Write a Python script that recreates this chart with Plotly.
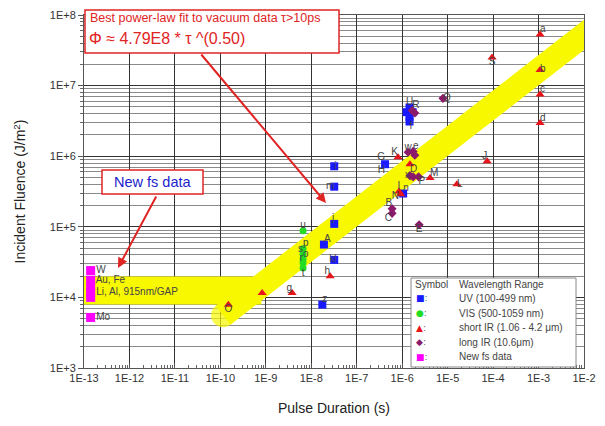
import plotly.graph_objects as go

FONT = "Liberation Sans, Arial, Helvetica, sans-serif"

# ---------------- data ----------------
# axis ticks
x_tickvals = [1e-13, 1e-12, 1e-11, 1e-10, 1e-9, 1e-8, 1e-7, 1e-6, 1e-5, 1e-4, 1e-3, 1e-2]
x_ticktext = ["1E-13", "1E-12", "1E-11", "1E-10", "1E-9", "1E-8", "1E-7", "1E-6",
              "1E-5", "1E-4", "1E-3", "1E-2"]
y_tickvals = [1e3, 1e4, 1e5, 1e6, 1e7, 1e8]
y_ticktext = ["1E+3", "1E+4", "1E+5", "1E+6", "1E+7", "1E+8"]

# UV (100-499 nm)
uv_tau = [3.2e-8, 3.2e-8, 3.2e-8, 1.9e-8, 3.2e-8, 1.75e-8, 4.2e-7,
          1.45e-6, 1.25e-6, 1.7e-6, 1.45e-6, 1.45e-6, 1.05e-6]
uv_phi = [7.2e5, 3.7e5, 1.1e5, 5.6e4, 3.4e4, 7.9e3, 7.7e5,
          4.9e6, 4.2e6, 4.2e6, 3.6e6, 3.1e6, 2.96e5]
uv_lab_idx = [0, 1, 2, 3, 4, 4, 5, 6, 7, 11, 12]
uv_lab_txt = ["i", "m", "j", "A", "l", "k", "z", "G<br>H", "U", "f", "n"]
uv_lab_pos = ["middle right", "middle left", "top left", "top right", "middle right",
              "middle left", "top right", "middle left", "top center", "bottom right",
              "top right"]

# VIS (500-1059 nm)
vis_tau = [6.6e-9, 6.6e-9, 6.6e-9, 6.6e-9, 6.6e-9, 6.6e-9]
vis_phi = [8.8e4, 4.9e4, 4.1e4, 3.5e4, 3.1e4, 2.6e4]
vis_lab_idx = [0, 1, 2, 2, 3, 5]
vis_lab_txt = ["u", "p", "o", "s", "r", "t"]
vis_lab_pos = ["top center", "top right", "middle right", "top left", "middle left",
               "bottom center"]

# short IR (1.06 - 4.2 um)
sir_tau = [1.08e-3, 1.08e-3, 1.08e-3, 1.08e-3, 9.5e-5, 7.4e-5, 1.6e-5, 4.1e-6,
           8.1e-7, 1.48e-6, 8.5e-7, 9.3e-7, 2.6e-8, 3.8e-9, 8.3e-10, 1.5e-10]
sir_phi = [5.3e7, 1.67e7, 7.5e6, 2.95e6, 2.5e7, 8.5e5, 4.0e5, 4.9e5,
           9.7e5, 7.7e5, 3.16e5, 2.9e5, 2.0e4, 1.15e4, 1.15e4, 7.9e3]
sir_lab_idx = [0, 1, 2, 3, 4, 5, 6, 7, 8, 9, 10, 10, 12, 13, 15]
sir_lab_txt = ["a", "b", "c", "d", "S", "J", "L", "M", "K", "D", "N", "I", "h", "g", "O"]
sir_lab_pos = ["top right", "middle right", "top right", "top right", "bottom center",
               "top left", "middle right", "top right", "top left", "bottom right",
               "bottom left", "top center", "top left", "top left", "bottom center"]

# long IR (10.6 um)
lir_tau = [7.9e-6, 2.36e-6, 6.0e-7, 6.0e-7, 1.35e-6, 1.74e-6, 1.9e-6,
           1.48e-6, 1.74e-6, 2.3e-6, 1.66e-6, 1.9e-6]
lir_phi = [6.6e6, 1.07e5, 1.8e5, 1.55e5, 1.14e6, 1.17e6, 1.03e6,
           5.3e5, 5.1e5, 5.1e5, 4.45e6, 4.1e6]
lir_lab_idx = [0, 1, 2, 3, 4, 5, 7, 9, 10]
lir_lab_txt = ["Q", "E", "B", "C", "w", "e", "x", "P", "R"]
lir_lab_pos = ["middle right", "bottom center", "top left", "bottom left", "top center",
               "top right", "middle left", "bottom right", "top right"]

# New fs data
fs_tau = [1.4e-13, 1.4e-13, 1.4e-13, 1.4e-13, 1.4e-13, 1.4e-13]
fs_phi = [2.4e4, 1.75e4, 1.42e4, 1.17e4, 1.0e4, 5.2e3]
fs_lab_idx = [0, 1, 3, 5]
fs_lab_txt = ["  W", "  Au, Fe", "  Li, Al, 915nm/GAP", "  Mo"]

# yellow guide bands
flat_tau = [1e-13, 8e-10]
flat_phi = [1.25e4, 1.25e4]
diag_tau = [1.15e-10, 2e-2]
diag_phi = [5.6e3, 7.4e7]

# legend
legend_rows = [("■", "#1a1aff", "UV (100-499 nm)"),
               ("●", "#22dd22", "VIS (500-1059 nm)"),
               ("▲", "#e8141b", "short IR (1.06 - 4.2 μm)"),
               ("◆", "#8b1a6b", "long IR (10.6μm)"),
               ("■", "#ff00ff", "New fs data")]

# ---------------- figure ----------------
# page has an 8px body margin: figure is 597x418 placed at (8, 8)
W, H = 597, 418
OFF = 8
PX0, PX1, PY0, PY1 = 84, 584, 15, 368  # plot area in page pixels
L, R, T, B = PX0 - OFF, W - (PX1 - OFF), PY0 - OFF, H - (PY1 - OFF)


def px(xp):
    return (xp - PX0) / (PX1 - PX0)


def py(yp):
    return (PY1 - yp) / (PY1 - PY0)


fig = go.Figure()
YEL = "#f8f800"
fig.add_trace(go.Scatter(x=flat_tau, y=flat_phi, mode="lines",
                         line=dict(color=YEL, width=28), hoverinfo="skip", showlegend=False))
fig.add_trace(go.Scatter(x=diag_tau, y=diag_phi, mode="lines+markers",
                         line=dict(color=YEL, width=24),
                         marker=dict(color=YEL, size=[24, 0], line=dict(width=0)),
                         hoverinfo="skip", showlegend=False, cliponaxis=True))

LABFONT = dict(family=FONT, size=10, color="#444444")


def add_series(tau, phi, color, symbol, size, idx, txt, pos):
    fig.add_trace(go.Scatter(x=tau, y=phi, mode="markers",
                             marker=dict(color=color, symbol=symbol, size=size,
                                         line=dict(width=0)),
                             cliponaxis=False, hoverinfo="skip", showlegend=False))
    if idx:
        fig.add_trace(go.Scatter(x=[tau[i] for i in idx], y=[phi[i] for i in idx],
                                 mode="text", text=txt, textposition=pos,
                                 textfont=LABFONT, cliponaxis=False,
                                 hoverinfo="skip", showlegend=False))


add_series(uv_tau, uv_phi, "#1a1aff", "square", 8, uv_lab_idx, uv_lab_txt, uv_lab_pos)
add_series(vis_tau, vis_phi, "#22dd22", "circle", 7, vis_lab_idx, vis_lab_txt, vis_lab_pos)
add_series(sir_tau, sir_phi, "#e8141b", "triangle-up", 8, sir_lab_idx, sir_lab_txt, sir_lab_pos)
add_series(lir_tau, lir_phi, "#8b1a6b", "diamond", 7, lir_lab_idx, lir_lab_txt, lir_lab_pos)
add_series(fs_tau, fs_phi, "#ff00ff", "square", 9, fs_lab_idx, fs_lab_txt,
           ["middle right"] * len(fs_lab_idx))

minor_x = [k * v for v in x_tickvals[:-1] for k in range(2, 10)]
minor_y = [k * v for v in y_tickvals[:-1] for k in range(2, 10)]

fig.update_xaxes(type="log", range=[-13, -2], tickmode="array", tickvals=x_tickvals,
                 ticktext=x_ticktext, showgrid=True, gridcolor="#333333", gridwidth=1,
                 showline=True, linecolor="#555555", linewidth=1, mirror=True,
                 ticks="inside", ticklen=5, tickcolor="#555555",
                 tickfont=dict(family=FONT, size=11, color="#333333"),
                 ticklabeloverflow="allow",
                 minor=dict(tickmode="array", tickvals=minor_x, ticks="inside", ticklen=3,
                            tickcolor="#666666", showgrid=False),
                 zeroline=False, automargin=False,
                 title=dict(text="Pulse Duration (s)", standoff=19,
                            font=dict(family=FONT, size=14, color="#222222")))
fig.update_yaxes(type="log", range=[3, 8], tickmode="array", tickvals=y_tickvals,
                 ticktext=y_ticktext, showgrid=True, gridcolor="#333333", gridwidth=1.2,
                 showline=True, linecolor="#555555", linewidth=1, mirror=True,
                 ticks="outside", ticklen=5, tickcolor="#555555",
                 tickfont=dict(family=FONT, size=11, color="#333333"),
                 ticklabeloverflow="allow",
                 minor=dict(tickmode="array", tickvals=minor_y, ticks="outside", ticklen=3,
                            tickcolor="#666666", showgrid=True, gridcolor="#8a8a8a",
                            gridwidth=0.7),
                 zeroline=False, automargin=False,
                 title=dict(text="Incident Fluence (J/m<sup>2</sup>)", standoff=20,
                            font=dict(family=FONT, size=14, color="#222222")))

RED = "#e02424"
shapes = [
    # fit annotation box
    dict(type="rect", xref="paper", yref="paper", x0=px(85), x1=px(339), y0=py(53), y1=py(10),
         line=dict(color=RED, width=1.5), fillcolor="white", layer="above"),
    # new fs data box
    dict(type="rect", xref="paper", yref="paper", x0=px(102), x1=px(203), y0=py(194), y1=py(170),
         line=dict(color=RED, width=1.5), fillcolor="white", layer="above"),
    # legend box
    dict(type="rect", xref="paper", yref="paper", x0=px(411), x1=px(576), y0=py(367), y1=py(278),
         line=dict(color="#888888", width=1), fillcolor="white", layer="above"),
]

annotations = [
    dict(xref="paper", yref="paper", x=px(88), y=py(18), xanchor="left", yanchor="middle",
         text="Best power-law fit to vacuum data τ>10ps", showarrow=False,
         font=dict(family=FONT, size=12.5, color=RED)),
    dict(xref="paper", yref="paper", x=px(87), y=py(39), xanchor="left", yanchor="middle",
         text="Φ ≈ 4.79E8 * τ ^(0.50)", showarrow=False,
         font=dict(family=FONT, size=16, color=RED)),
    dict(xref="paper", yref="paper", x=px(326), y=py(203), ax=200 - 326, ay=53 - 203,
         text="", showarrow=True, arrowcolor=RED, arrowwidth=2, arrowhead=2, arrowsize=1),
    dict(xref="paper", yref="paper", x=px(152.5), y=py(182), xanchor="center", yanchor="middle",
         text="New fs data", showarrow=False,
         font=dict(family=FONT, size=14.5, color="#2222cc")),
    dict(xref="paper", yref="paper", x=px(118), y=py(268), ax=157 - 118, ay=195 - 268,
         text="", showarrow=True, arrowcolor=RED, arrowwidth=2, arrowhead=2, arrowsize=1),
    dict(xref="paper", yref="paper", x=px(413), y=py(284), xanchor="left", yanchor="middle",
         text="Symbol", showarrow=False, font=dict(family=FONT, size=10, color="#444444")),
    dict(xref="paper", yref="paper", x=px(457), y=py(284), xanchor="left", yanchor="middle",
         text="Wavelength Range", showarrow=False,
         font=dict(family=FONT, size=10, color="#444444")),
]
row_y = [298, 313, 327.5, 342, 356.5]
for (sym, col, name), yy in zip(legend_rows, row_y):
    annotations.append(dict(xref="paper", yref="paper", x=px(414), y=py(yy), xanchor="left",
                            yanchor="middle", showarrow=False,
                            text=f"<span style='color:{col}'>{sym}</span>:",
                            font=dict(family="DejaVu Sans", size=9, color="#666666")))
    annotations.append(dict(xref="paper", yref="paper", x=px(457), y=py(yy), xanchor="left",
                            yanchor="middle", showarrow=False, text=name,
                            font=dict(family=FONT, size=10, color="#444444")))

fig.update_layout(width=W, height=H, margin=dict(l=L, r=R, t=T, b=B, autoexpand=False),
                  paper_bgcolor="white", plot_bgcolor="white",
                  shapes=shapes, annotations=annotations, showlegend=False,
                  font=dict(family=FONT))

fig.write_html("out.html")
